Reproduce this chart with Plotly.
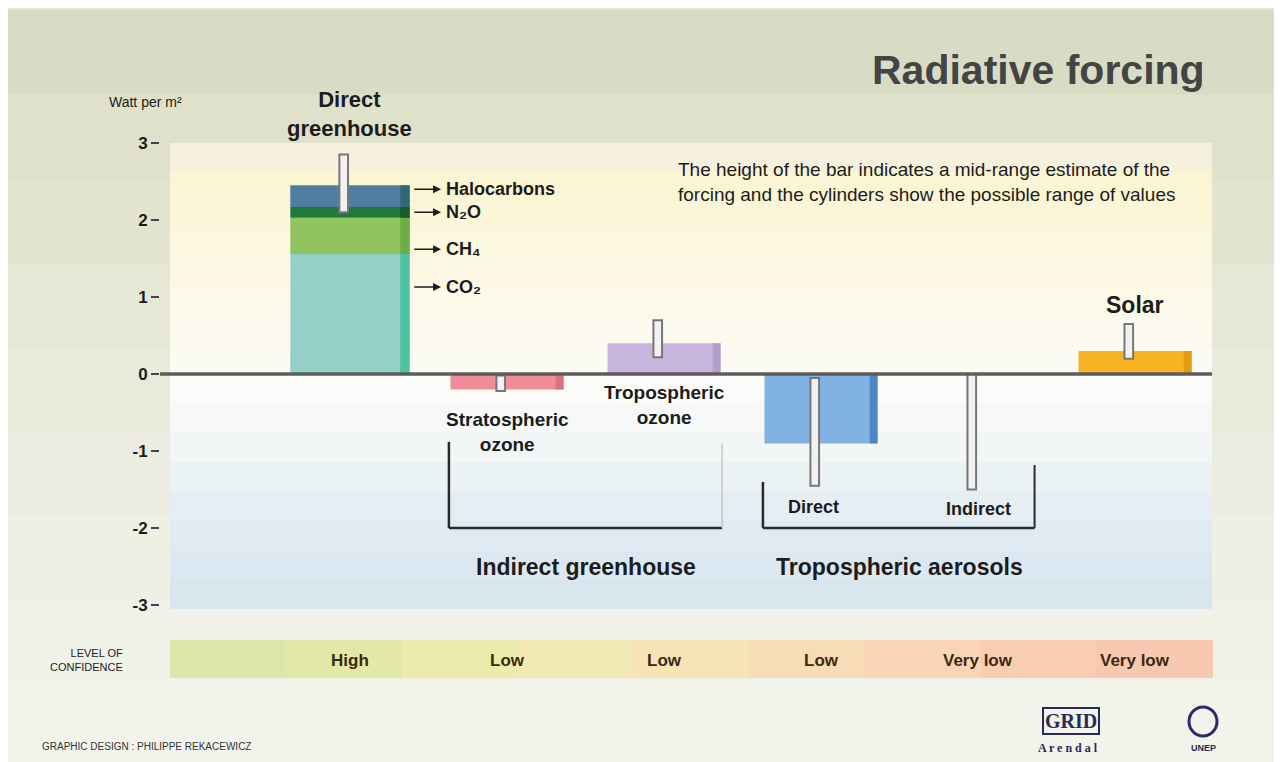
import plotly.graph_objects as go

# ---------------- data ----------------
categories = ["Direct greenhouse", "Stratospheric ozone", "Tropospheric ozone",
              "Direct aerosols", "Indirect aerosols", "Solar"]
cat_pos = [0, 1, 2, 3, 4, 5]

ghg_gases = ["CO₂", "CH₄", "N₂O", "Halocarbons"]
ghg_values = [1.56, 0.47, 0.14, 0.28]
ghg_colors = ["#93d0c8", "#8fc45e", "#1f7a3c", "#4e7fa3"]
ghg_side_colors = ["#4ec3a2", "#6aae45", "#145c2c", "#2f6877"]

other_cats = [1, 2, 3, 5]
other_values = [-0.2, 0.4, -0.9, 0.3]
other_colors = ["#f08c98", "#c9b6de", "#80b2e2", "#f6b324"]
other_side_colors = ["#e0707e", "#b39fcc", "#4f86c6", "#e39a10"]

range_low = [2.1, -0.22, 0.22, -1.45, -1.5, 0.2]
range_high = [2.85, -0.02, 0.7, -0.05, 0.0, 0.65]

confidence = ["High", "Low", "Low", "Low", "Very low", "Very low"]

y_ticks = [3, 2, 1, 0, -1, -2, -3]

# ---------------- geometry helpers ----------------
W, H = 1282, 762
OFF = 8  # browser body margin
L, R, T, B = 160 - OFF, 1212 - OFF, 143 - OFF, 609 - OFF
def px(xp):
    return (xp - OFF - L) / (R - L)
def py(yp):
    return (B - (yp - OFF)) / (B - T)

FONT = "Liberation Sans Narrow, Liberation Sans, Arial, sans-serif"
TXT = "#1c1c1c"

fig = go.Figure()

# greenhouse stack
base = 0
for g, v, c, sc in zip(ghg_gases, ghg_values, ghg_colors, ghg_side_colors):
    fig.add_trace(go.Bar(x=[cat_pos[0]], y=[v], base=[base], width=0.76,
                         marker=dict(color=c, line=dict(width=0)), name=g,
                         showlegend=False, hoverinfo="skip"))
    fig.add_trace(go.Bar(x=[cat_pos[0] + 0.35], y=[v], base=[base], width=0.06,
                         marker=dict(color=sc, line=dict(width=0)),
                         showlegend=False, hoverinfo="skip"))
    base += v

# other bars
fig.add_trace(go.Bar(x=other_cats, y=other_values, width=0.72,
                     marker=dict(color=other_colors, line=dict(width=0)),
                     showlegend=False, hoverinfo="skip"))
fig.add_trace(go.Bar(x=[c + 0.335 for c in other_cats], y=other_values, width=0.05,
                     marker=dict(color=other_side_colors, line=dict(width=0)),
                     showlegend=False, hoverinfo="skip"))

# range cylinders (sticks)
stick_x = [p - 0.04 for p in cat_pos]
fig.add_trace(go.Bar(x=stick_x, y=[h - l for l, h in zip(range_low, range_high)],
                     base=range_low, width=0.055,
                     marker=dict(color="#f1f1f1", line=dict(color="#777777", width=2)),
                     showlegend=False, hoverinfo="skip"))

# ---------------- background shapes ----------------
shapes = []
# page gradient
page_cols = ["#d9dcc5", "#dfe1cb", "#e2e4cf", "#e6e8d5", "#e9ebda", "#ecede0", "#eef0e4", "#f0f2e7", "#f2f3ea"]
n = len(page_cols)
for i, c in enumerate(page_cols):
    shapes.append(dict(type="rect", xref="paper", yref="paper", x0=px(0), x1=px(1290),
                       y0=py(10 + i * 760 / n), y1=py(10 + (i + 1) * 760 / n + 1),
                       fillcolor=c, line=dict(width=0), layer="below"))
# upper pale yellow gradient
top_cols = ["#f6f1dc", "#fbf5d4", "#fcf6d9", "#fcf7df", "#fdf8e4", "#fdf9e9", "#fcfaee", "#fbfbf2"]
n = len(top_cols)
for i, c in enumerate(top_cols):
    shapes.append(dict(type="rect", xref="paper", yref="y", x0=px(170), x1=1,
                       y0=3.0 - i * 3.0 / n, y1=3.0 - (i + 1) * 3.0 / n,
                       fillcolor=c, line=dict(width=0), layer="below"))
bot_cols = ["#fbfcfa", "#f7f9f8", "#f2f6f6", "#ebf2f4", "#e5eef3", "#e0eaf2", "#dce8f1", "#d8e6ee"]
n = len(bot_cols)
for i, c in enumerate(bot_cols):
    shapes.append(dict(type="rect", xref="paper", yref="y", x0=px(170), x1=1,
                       y0=-i * 3.05 / n, y1=-(i + 1) * 3.05 / n,
                       fillcolor=c, line=dict(width=0), layer="below"))

# zero line
shapes.append(dict(type="line", xref="paper", yref="y", x0=0, x1=1, y0=0, y1=0,
                   line=dict(color="#5c5c5c", width=3.5), layer="above"))

# brackets
br = "#2a2a2a"
shapes += [
    dict(type="line", xref="x", yref="y", x0=0.63, x1=0.63, y0=-0.88, y1=-2.0, line=dict(color=br, width=2.5)),
    dict(type="line", xref="x", yref="y", x0=0.63, x1=2.37, y0=-2.0, y1=-2.0, line=dict(color=br, width=2.5)),
    dict(type="line", xref="x", yref="y", x0=2.37, x1=2.37, y0=-0.9, y1=-2.0, line=dict(color="#bbbbbb", width=1.2)),
    dict(type="line", xref="x", yref="y", x0=2.63, x1=2.63, y0=-1.4, y1=-2.0, line=dict(color=br, width=2.5)),
    dict(type="line", xref="x", yref="y", x0=2.63, x1=4.36, y0=-2.0, y1=-2.0, line=dict(color=br, width=2.5)),
    dict(type="line", xref="x", yref="y", x0=4.36, x1=4.36, y0=-1.18, y1=-2.0, line=dict(color=br, width=2)),
]

# confidence strip gradient
conf_cols = ["#dde6a8", "#e2e8a6", "#ecebae", "#f3e9b4", "#f6e3b6", "#f8dcb8", "#f9d4b6", "#f9cdb2", "#f8c8b0"]
n = len(conf_cols)
x0p, x1p = 170, 1212
for i, c in enumerate(conf_cols):
    shapes.append(dict(type="rect", xref="paper", yref="paper",
                       x0=px(x0p + i * (x1p - x0p) / n), x1=px(x0p + (i + 1) * (x1p - x0p) / n + 1),
                       y0=py(678), y1=py(640), fillcolor=c, line=dict(width=0), layer="below"))

# ---------------- annotations ----------------
ann = []
ann.append(dict(text="<b>Radiative forcing</b>", xref="paper", yref="paper", x=px(1207), y=py(70),
                xanchor="right", yanchor="middle", showarrow=False,
                font=dict(family=FONT, size=41, color="#444444")))
ann.append(dict(text="Watt per m²", xref="paper", yref="paper", x=px(107), y=py(102),
                xanchor="left", yanchor="middle", showarrow=False,
                font=dict(family=FONT, size=14, color=TXT)))
ann.append(dict(text="<b>Direct<br>greenhouse</b>", x=cat_pos[0], xref="x", yref="paper", y=py(114),
                showarrow=False, font=dict(family=FONT, size=22, color=TXT), yanchor="middle"))
ann.append(dict(text="The height of the bar indicates a mid-range estimate of the<br>"
                     "forcing and the cylinders show the possible range of values",
                xref="paper", yref="paper", x=px(926), y=py(182), showarrow=False,
                xanchor="center", yanchor="middle", align="left",
                font=dict(family=FONT, size=19, color=TXT)))

# gas labels with arrows
gas_label_y = [1.13, 1.62, 2.1, 2.4]
for g, yy in zip(ghg_gases, gas_label_y):
    ann.append(dict(x=0.58, y=yy, ax=0.40, ay=yy, xref="x", yref="y", axref="x", ayref="y",
                    text="", showarrow=True, arrowhead=2, arrowsize=1, arrowwidth=1.6, arrowcolor=TXT))
    ann.append(dict(x=0.6, y=yy, xref="x", yref="y", text="<b>" + g + "</b>", showarrow=False,
                    xanchor="left", yanchor="middle", font=dict(family=FONT, size=18, color=TXT)))

ann.append(dict(text="<b>Stratospheric<br>ozone</b>", x=1, y=-0.75, xref="x", yref="y", showarrow=False,
                font=dict(family=FONT, size=19, color=TXT)))
ann.append(dict(text="<b>Tropospheric<br>ozone</b>", x=2, y=-0.4, xref="x", yref="y", showarrow=False,
                font=dict(family=FONT, size=19, color=TXT)))
ann.append(dict(text="<b>Indirect greenhouse</b>", x=1.5, y=-2.5, xref="x", yref="y", showarrow=False,
                font=dict(family=FONT, size=23, color=TXT)))
ann.append(dict(text="<b>Direct</b>", x=2.95, y=-1.73, xref="x", yref="y", showarrow=False,
                font=dict(family=FONT, size=18, color=TXT)))
ann.append(dict(text="<b>Indirect</b>", x=4.0, y=-1.75, xref="x", yref="y", showarrow=False,
                font=dict(family=FONT, size=18, color=TXT)))
ann.append(dict(text="<b>Tropospheric aerosols</b>", x=3.5, y=-2.5, xref="x", yref="y", showarrow=False,
                font=dict(family=FONT, size=23, color=TXT)))
ann.append(dict(text="<b>Solar</b>", x=5, y=0.9, xref="x", yref="y", showarrow=False,
                font=dict(family=FONT, size=23, color=TXT)))

# confidence
ann.append(dict(text="LEVEL OF<br>CONFIDENCE", xref="paper", yref="paper", x=px(125), y=py(660),
                showarrow=False, xanchor="right", yanchor="middle", align="right",
                font=dict(family=FONT, size=11, color=TXT)))
for p, c in zip(cat_pos, confidence):
    ann.append(dict(text="<b>" + c + "</b>", x=p, xref="x", yref="paper", y=py(660), showarrow=False,
                    yanchor="middle", font=dict(family=FONT, size=17, color="#3a2a10")))

# credit & logos
ann.append(dict(text="GRAPHIC DESIGN : PHILIPPE REKACEWICZ", xref="paper", yref="paper",
                x=px(40), y=py(746), xanchor="left", yanchor="middle", showarrow=False,
                font=dict(family=FONT, size=10, color="#333333")))
ann.append(dict(text="<b>GRID</b>", xref="paper", yref="paper", x=px(1100), y=py(721),
                xanchor="right", yanchor="middle", showarrow=False, bordercolor="#2a2a5a", borderwidth=2,
                borderpad=1, font=dict(family="Liberation Serif, serif", size=20, color="#2a2a5a")))
ann.append(dict(text="<b>A r e n d a l</b>", xref="paper", yref="paper", x=px(1100), y=py(748),
                xanchor="right", yanchor="middle", showarrow=False,
                font=dict(family="Liberation Serif, serif", size=12, color="#2a2a5a")))
ann.append(dict(text="<b>UNEP</b>", xref="paper", yref="paper", x=px(1203), y=py(748),
                xanchor="center", yanchor="middle", showarrow=False,
                font=dict(family=FONT, size=9, color="#2a2a5a")))
shapes.append(dict(type="circle", xref="paper", yref="paper", x0=px(1189), x1=px(1217),
                   y0=py(736), y1=py(707), line=dict(color="#2a2a6a", width=3), fillcolor="rgba(0,0,0,0)"))

fig.update_layout(
    width=W, height=H,
    margin=dict(l=L, r=W - R, t=T, b=H - B),
    paper_bgcolor="#e6e8d5",
    plot_bgcolor="rgba(0,0,0,0)",
    barmode="overlay",
    shapes=shapes,
    annotations=ann,
    xaxis=dict(range=[-1.21, 5.49], showgrid=False, zeroline=False, showticklabels=False,
               ticks="", showline=False),
    yaxis=dict(range=[-3.05, 3.0], tickvals=y_ticks, ticktext=["<b>%d</b>" % t for t in y_ticks],
               showgrid=False, zeroline=False, ticks="outside", ticklen=8, tickcolor="#444444",
               tickwidth=1.5, showline=False,
               tickfont=dict(family=FONT, size=17, color=TXT)),
    font=dict(family=FONT),
)

fig.write_html("out.html")
